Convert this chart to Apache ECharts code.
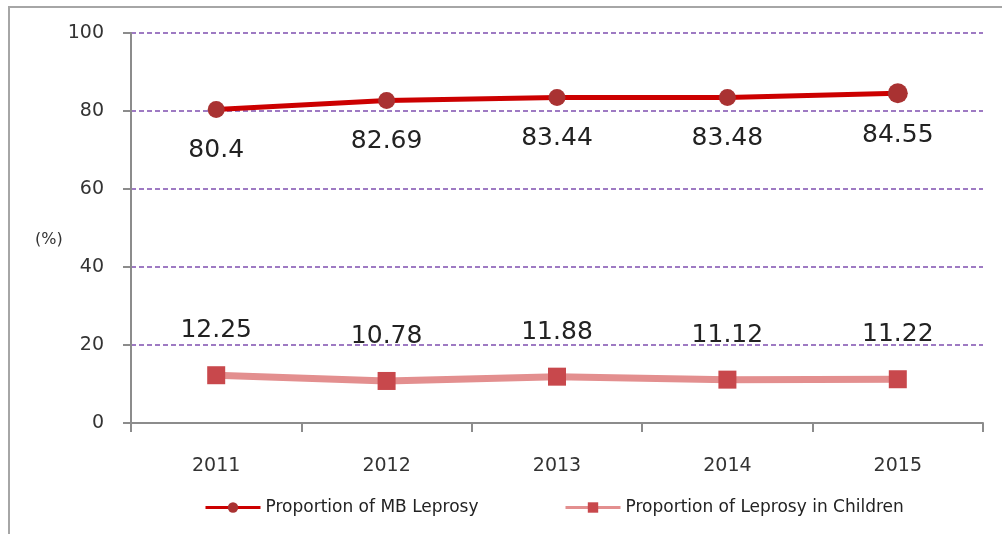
<!DOCTYPE html>
<html><head><meta charset="utf-8">
<script src="https://cdn.jsdelivr.net/npm/echarts@6/dist/echarts.min.js"></script>
<style>html,body{margin:0;padding:0;background:#fff;}#c{width:1002px;height:534px;}</style>
</head><body><div id="c"></div>
<script>
var categories = ['2011', '2012', '2013', '2014', '2015'];
var mbLeprosy = [80.4, 82.69, 83.44, 83.48, 84.55];
var childLeprosy = [12.25, 10.78, 11.88, 11.12, 11.22];
var seriesNames = ['Proportion of MB Leprosy', 'Proportion of Leprosy in Children'];
var yTicks = [0, 20, 40, 60, 80, 100];

var font = '"DejaVu Sans", "Noto Sans", sans-serif';
var chart = echarts.init(document.getElementById('c'), null, {renderer: 'canvas'});
var legendCommon = {
  bottom: 13, itemWidth: 55, itemHeight: 13, itemGap: 0,
  lineStyle: {width: 3},
  textStyle: {fontFamily: font, fontSize: 17, color: '#222'}
};
chart.setOption({
  animation: false,
  backgroundColor: '#fff',
  graphic: [{
    type: 'polyline', shape: {points: [[9, 540], [9, 7], [1010, 7]]},
    style: {fill: 'none', stroke: '#a6a6a6', lineWidth: 2}, silent: true, z: -1
  }, {
    type: 'text', left: 35, top: 232,
    style: {text: '(%)', font: '16px ' + font, fill: '#333'}
  }],
  grid: {left: 131, right: 19, top: 33, bottom: 111, containLabel: false},
  legend: [
    Object.assign({left: 199, data: [seriesNames[0]]}, legendCommon),
    Object.assign({left: 559, data: [seriesNames[1]]}, legendCommon)
  ],
  xAxis: {
    type: 'category', data: categories, boundaryGap: true,
    axisLine: {lineStyle: {color: '#8c8c8c', width: 2}},
    axisTick: {show: true, length: 9, lineStyle: {color: '#8c8c8c', width: 2}},
    axisLabel: {fontFamily: font, fontSize: 19, color: '#333', margin: 34}
  },
  yAxis: {
    type: 'value', min: 0, max: 100, interval: 20,
    axisLine: {show: true, lineStyle: {color: '#8c8c8c', width: 2}},
    axisTick: {show: true, length: 8, lineStyle: {color: '#8c8c8c', width: 2}},
    axisLabel: {fontFamily: font, fontSize: 19, color: '#333', margin: 27,
      formatter: function (v) { return yTicks.indexOf(v) >= 0 ? String(v) : ''; }},
    splitLine: {show: true, lineStyle: {color: '#7f4fb0', type: [5, 3], width: 1.5}}
  },
  series: [{
    name: seriesNames[0], type: 'line', data: mbLeprosy,
    symbol: 'circle', symbolSize: function (v, p) { return p.dataIndex === 4 ? 20 : 17; },
    lineStyle: {color: '#cc0000', width: 5},
    itemStyle: {color: '#a93232', borderWidth: 0},
    label: {show: true, position: 'bottom', distance: 20, fontFamily: font, fontSize: 25, color: '#222'},
    z: 3
  }, {
    name: seriesNames[1], type: 'line', data: childLeprosy,
    symbol: 'rect', symbolSize: 18,
    lineStyle: {color: '#e38f8f', width: 7},
    itemStyle: {color: '#c8484c', borderWidth: 0},
    label: {show: true, position: 'top', distance: 23, fontFamily: font, fontSize: 25, color: '#222'},
    z: 2
  }]
});
</script></body></html>
